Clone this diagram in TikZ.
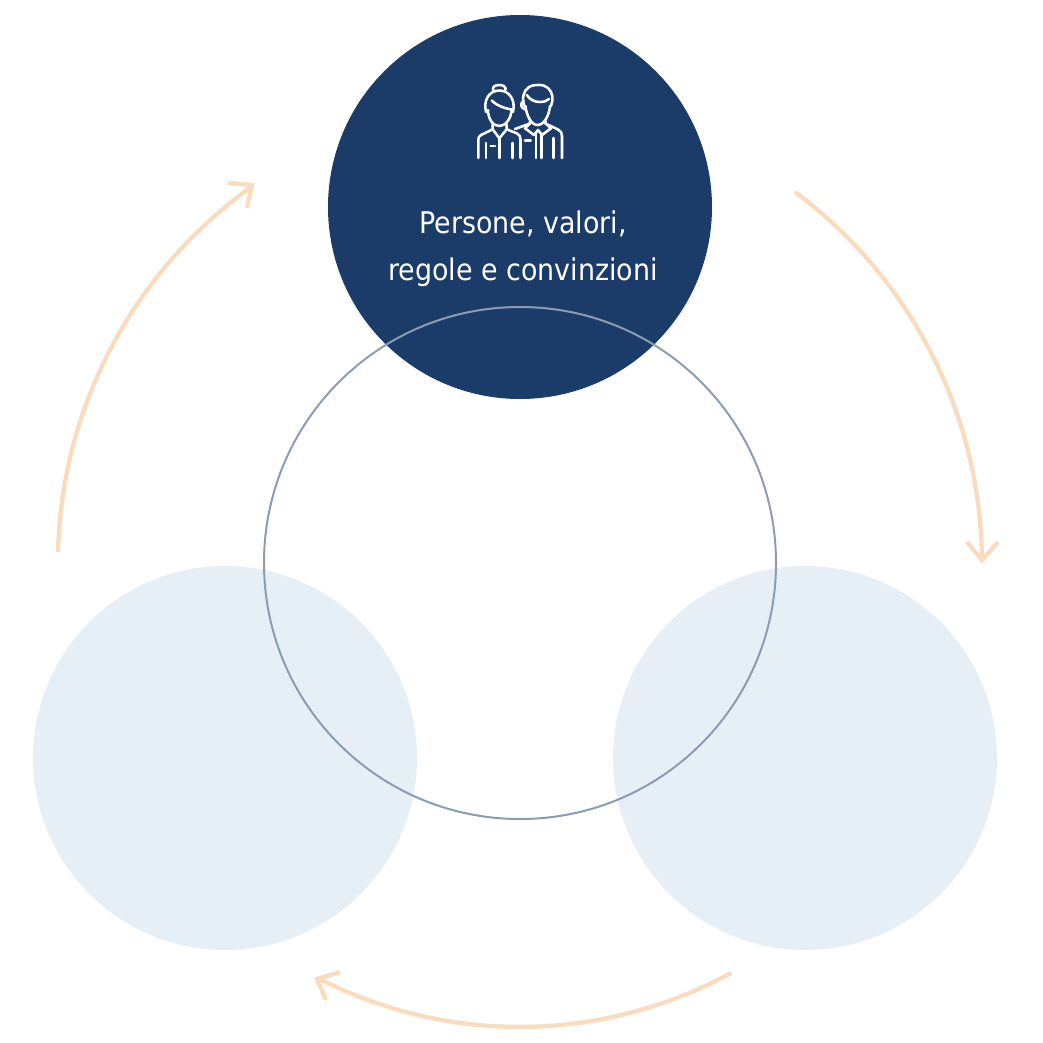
\documentclass[tikz,border=0pt]{standalone}
\usepackage{fontspec}
\setmainfont{DejaVu Sans Condensed}
\definecolor{navy}{HTML}{1B3C69}
\definecolor{pale}{HTML}{E6EFF6}
\definecolor{ringc}{HTML}{8B9CB3}
\definecolor{peach}{HTML}{F9DBBD}
\tikzset{
  disc/.style={circle,inner sep=0pt,minimum size=288pt,fill=#1},
  ringnode/.style={circle,inner sep=0pt,minimum size=384pt,draw=ringc,line width=1.5pt},
  cyc/.style={draw=peach,line width=3.2pt,miter limit=10},
  ico/.style={draw=white,line width=1.9pt,line cap=round,line join=round},
  lab/.style={text=white,font=\fontsize{22.4}{35}\selectfont,align=center}
}
\begin{document}
\begin{tikzpicture}[x=0.75pt,y=-0.75pt]
\useasboundingbox (0,0) rectangle (1043,1043);
\node[disc=navy] (top) at (520,207) {};
\node[disc=pale] (left) at (225,758) {};
\node[disc=pale] (right) at (805,758) {};
\node[ringnode] (ring) at (520,563) {};
\node[lab] (caption) at (523,249) {Persone, valori,\\regole e convinzioni};
% cycle arrows
\draw[cyc] (795,192) arc[start angle=53.4,end angle=0.3,radius=463*0.75pt];
\draw[cyc] (967,542) -- (982,560) -- (998,542);
\draw[cyc] (731,973) arc[start angle=-61.4,end angle=-117,radius=441.5*0.75pt];
\draw[cyc] (340,972) -- (317,979) -- (326,1000);
\draw[cyc] (58,552) arc[start angle=178.6,end angle=125.5,radius=463*0.75pt];
\draw[cyc] (228,183) -- (252,185) -- (247,208);
% icon: woman
\draw[ico] (493.5,91) .. controls (491.5,87) and (495,85) .. (499.3,85) .. controls (503.5,85) and (507,87) .. (505,91);
\draw[ico] (486,112) .. controls (483,99) and (490,90.5) .. (499.3,90.5) .. controls (508.5,90.5) and (516,99) .. (513,112);
\draw[ico] (488,110) .. controls (488,119) and (493,126) .. (499.3,126) .. controls (505.5,126) and (511,119) .. (511.5,110);
\draw[ico] (491.7,100.5) .. controls (496,105) and (505,109) .. (513,109.5);
\draw[ico] (492.7,124) -- (492.7,129.3) -- (499.3,138.3) -- (506.7,129.3) -- (506.7,124);
\draw[ico] (492.7,129.3) -- (481,135) .. controls (479,136) and (478.3,137.5) .. (478.3,140) -- (478.3,158);
\draw[ico] (506.7,129.3) -- (516.7,133.3) .. controls (519,134.5) and (520.5,136) .. (520.5,139) -- (520.5,158);
\draw[ico] (486,143) -- (486,158);
\draw[ico] (499.3,138.3) -- (499.3,158);
\draw[ico] (512.5,143) -- (512.5,158);
\draw[ico] (490.7,146) -- (495,146);
% icon: man
\draw[ico] (524.3,106) .. controls (522,98) and (523,91) .. (529,87) .. controls (534,84) and (544,84) .. (548,88) .. controls (553,92) and (553.5,100) .. (551,106);
\draw[ico] (526.7,95) .. controls (530,100) and (535,102) .. (540,102) .. controls (544,102) and (547,101) .. (549,99);
\draw[ico] (525.5,106) .. controls (526.5,116) and (531.5,125) .. (537.5,125) .. controls (544,125) and (549,116) .. (550,106);
\draw[ico] (523.5,101) .. controls (520,103) and (520.5,108) .. (525,109.5);
\draw[ico] (530,121) -- (530,123.5) -- (525,128.3) -- (534,135) -- (538,130) -- (542,135) -- (551,128.3) -- (545.5,123.5) -- (545.5,121);
\draw[ico] (536,132.5) -- (536,158);
\draw[ico] (541.7,134.5) -- (541.7,158);
\draw[ico] (545.5,123.5) -- (558,129.5) .. controls (561,131) and (562,133) .. (562,136) -- (562,158);
\draw[ico] (553.3,138) -- (553.3,158);
\draw[ico] (530,123.5) -- (515,129);
\draw[ico] (525,140.7) -- (530.7,140.7);
\end{tikzpicture}
\end{document}
